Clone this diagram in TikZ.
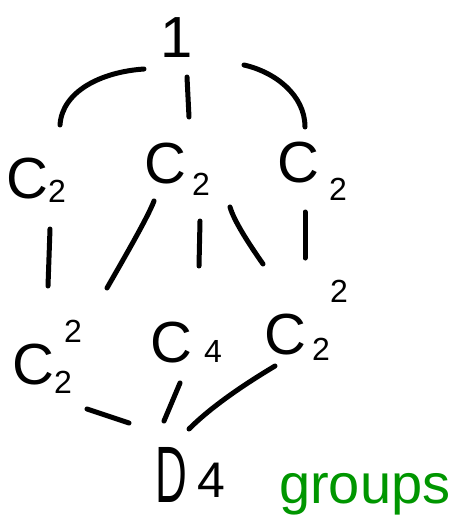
\documentclass[tikz,border=0pt]{standalone}
\usepackage{fontspec}
\usepackage{graphicx}
\setmainfont{Liberation Sans}
\usepackage{tikz}
\usetikzlibrary{calc}
\definecolor{corverde}{RGB}{0,150,0}
\newcommand\dig{\fontsize{32}{32}\selectfont}
\newcommand\dn[3]{\kern#1\raisebox{-#2}{\dig #3}}

\begin{document}
\begin{tikzpicture}[
  x=1pt, y=-1pt,
  grupo/.style={inner sep=0pt, anchor=base west, font=\fontsize{58}{58}\selectfont},
  traco/.style={line width=5pt, line cap=round}
]
  \useasboundingbox (0,0) rectangle (456,528);

  \node[grupo, anchor=base] (um) at (177,57) {1};
  \node[grupo] (c2a) at (6,198) {C\dn{0pt}{4pt}{2}};
  \node[grupo] (c2b) at (144,183) {C\dn{6pt}{12pt}{2}};
  \node[grupo] (c2c) at (277,182) {C\dn{10pt}{18pt}{2}};
  \node[grupo] (k4a) at (12,384) {C\rlap{\kern10pt\raisebox{42pt}{\dig 2}}\dn{0pt}{9pt}{2}};
  \node[grupo] (c4) at (150,362) {C\kern12pt{\dig 4}};
  \node[grupo] (k4b) at (264,354) {C\rlap{\kern24pt\raisebox{52pt}{\dig 2}}\dn{6pt}{6pt}{2}};
  \node[grupo] (d4) at (155,502) {\scalebox{0.55}[1]{\fontsize{80}{80}\selectfont D}\kern11pt\raisebox{5pt}{\fontsize{50}{50}\selectfont 4}};
  \node[grupo, font=\fontsize{56}{56}\selectfont, text=corverde] (rotulo) at (279,503) {groups};

  % ligacoes do reticulado
  \draw[traco] ($(um.base)+(-33,12)$) .. controls +(-44,3) and +(2,-33) .. ($(c2a.base west)+(54,-73)$);
  \draw[traco] ($(um.base)+(10,20)$) -- ($(c2b.base west)+(45,-66)$);
  \draw[traco] ($(um.base)+(67,8)$) .. controls +(31,7) and +(0,-32) .. ($(c2c.base west)+(28,-55)$);
  \draw[traco] ($(c2a.base west)+(44,31)$) -- ($(k4a.base west)+(36,-98)$);
  \draw[traco] ($(c2b.base west)+(10,18)$) .. controls +(-6,16) and +(16,-28) .. ($(k4a.base west)+(95,-96)$);
  \draw[traco] ($(c2b.base west)+(56,38)$) -- ($(c4.base west)+(49,-96)$);
  \draw[traco] ($(c2b.base west)+(86,24)$) .. controls +(4,14) and +(-14,-20) .. ($(k4b.base west)+(-1,-90)$);
  \draw[traco] ($(c2c.base west)+(28,30)$) -- ($(k4b.base west)+(41,-96)$);
  \draw[traco] ($(k4a.base west)+(75,25)$) -- ($(d4.base west)+(-26,-79)$);
  \draw[traco] ($(c4.base west)+(30,21)$) -- ($(d4.base west)+(9,-81)$);
  \draw[traco] ($(k4b.base west)+(11,12)$) .. controls +(-25,15) and +(25,-25) .. ($(d4.base west)+(34,-73)$);
\end{tikzpicture}
\end{document}
